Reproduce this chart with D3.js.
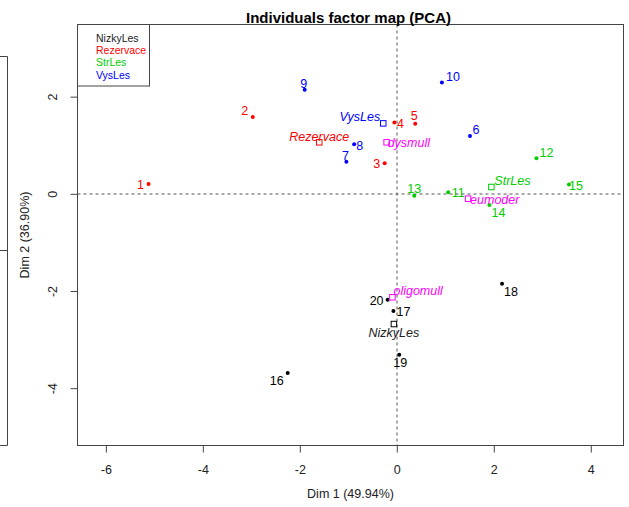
<!DOCTYPE html>
<html>
<head>
<meta charset="utf-8">
<script src="https://cdn.jsdelivr.net/npm/d3@7"></script>
<style>
  html, body { margin: 0; padding: 0; background: #fff; }
  svg { display: block; font-family: "Liberation Sans", Arial, Helvetica, sans-serif; }
</style>
</head>
<body>
<svg id="chart" width="629" height="507"></svg>
<script>
// PCA individuals: scores on the first two dimensions
const individualIds = ["1","2","3","4","5","6","7","8","9","10",
                       "11","12","13","14","15","16","17","18","19","20"];
const individualGroups = ["Rezervace","Rezervace","Rezervace","Rezervace","Rezervace",
                          "VysLes","VysLes","VysLes","VysLes","VysLes",
                          "StrLes","StrLes","StrLes","StrLes","StrLes",
                          "NizkyLes","NizkyLes","NizkyLes","NizkyLes","NizkyLes"];
const individualDim1 = [-5.12, -2.97, -0.25, -0.05, 0.38, 1.51, -1.04, -0.88, -1.90, 0.93,
                         1.06, 2.88, 0.36, 1.91, 3.55, -2.25, -0.07, 2.17, 0.05, -0.19];
const individualDim2 = [0.20, 1.58, 0.63, 1.47, 1.44, 1.19, 0.66, 1.02, 2.14, 2.29,
                        0.03, 0.73, -0.04, -0.23, 0.19, -3.69, -2.41, -1.85, -3.31, -2.18];

// Supplementary categories (centres of the qualitative levels)
const categoryNames = ["NizkyLes", "Rezervace", "StrLes", "VysLes", "dysmull", "eumoder", "oligomull"];
const categoryVariable = ["forest", "forest", "forest", "forest", "soil", "soil", "soil"];
const categoryDim1 = [-0.06, -1.60, 1.95, -0.28, -0.21, 1.47, -0.09];
const categoryDim2 = [-2.68, 1.06, 0.14, 1.45, 1.06, -0.10, -2.13];

const legendLabels = ["NizkyLes", "Rezervace", "StrLes", "VysLes"];
const xTickValues = [-6, -4, -2, 0, 2, 4];
const yTickValues = [-4, -2, 0, 2];
const xLimits = [-6.585, 4.675];
const yLimits = [-5.18, 3.485];

const titleText = "Individuals factor map (PCA)";
const xAxisTitle = "Dim 1 (49.94%)";
const yAxisTitle = "Dim 2 (36.90%)";

// ---- styling and layout ----
const groupColor = {
  NizkyLes: "#000000",
  Rezervace: "#FF0000",
  StrLes: "#00CD00",
  VysLes: "#0000FF",
  soil: "#FF00FF"
};
// text centre relative to the point, in px
const pointLabelOffset = {
  "1": [-8, 1], "2": [-8, -6], "3": [-8, 0], "4": [6, 1], "5": [-1, -8],
  "6": [6, -6], "7": [-1, -6], "8": [5.5, 1], "9": [-1, -6], "10": [11, -6],
  "11": [10, 0], "12": [10, -6], "13": [0, -7], "14": [9, 8], "15": [7, 1],
  "16": [-11, 8], "17": [10, 1], "18": [9, 8], "19": [1, 8], "20": [-11, 1]
};
// [dx, dy, anchor] relative to the square
const categoryLabelPlacement = {
  NizkyLes: [0, 9, "middle"],
  Rezervace: [0, -6, "middle"],
  StrLes: [3, -6, "start"],
  VysLes: [-3, -7, "end"],
  dysmull: [1, 0, "start"],
  eumoder: [2, 1, "start"],
  oligomull: [1, -7, "start"]
};

const W = 629, H = 507;
const margin = { top: 24.5, right: 5.5, bottom: 61.5, left: 77.5 };
const plotW = W - margin.left - margin.right;
const plotH = H - margin.top - margin.bottom;

const svg = d3.select("#chart");

const x = d3.scaleLinear().domain(xLimits).range([0, plotW]);
const y = d3.scaleLinear().domain(yLimits).range([plotH, 0]);

// partial frame of a neighbouring panel at the far left
const side = svg.append("g").attr("stroke", "#444").attr("stroke-width", 1).attr("fill", "none");
side.append("path").attr("d", "M0,56.5 H7.5 V445.5 H0");
side.append("line").attr("x1", 0).attr("x2", 7.5).attr("y1", 250.5).attr("y2", 250.5);

const g = svg.append("g").attr("transform", `translate(${margin.left},${margin.top})`);

// reference lines at zero
g.append("line")
  .attr("x1", 0).attr("x2", plotW)
  .attr("y1", Math.round(y(0)) + 0.5).attr("y2", Math.round(y(0)) + 0.5)
  .attr("stroke", "#555").attr("stroke-width", 1).attr("stroke-dasharray", "3,3");
g.append("line")
  .attr("x1", Math.round(x(0)) + 0.5).attr("x2", Math.round(x(0)) + 0.5)
  .attr("y1", 0).attr("y2", plotH)
  .attr("stroke", "#555").attr("stroke-width", 1).attr("stroke-dasharray", "3,3");

// axes
const xAxis = g.append("g")
  .attr("transform", `translate(0,${plotH})`)
  .call(d3.axisBottom(x).tickValues(xTickValues).tickSize(7).tickPadding(13).tickFormat(d => String(d)));
xAxis.select(".domain").remove();
xAxis.selectAll("line").attr("stroke", "#444");
xAxis.selectAll("text").attr("font-size", 12.5).attr("fill", "#222")
  .style("font-family", "'Liberation Sans', Arial, sans-serif");

const yAxis = g.append("g")
  .call(d3.axisLeft(y).tickValues(yTickValues).tickSize(7).tickFormat(d => String(d)));
yAxis.select(".domain").remove();
yAxis.selectAll("line").attr("stroke", "#444");
yAxis.selectAll("text")
  .attr("x", null).attr("dy", "0.35em")
  .attr("text-anchor", "middle")
  .attr("transform", "translate(-24.4,0) rotate(-90)")
  .attr("font-size", 12.5).attr("fill", "#222")
  .style("font-family", "'Liberation Sans', Arial, sans-serif");

// plot frame
g.append("rect")
  .attr("x", 0).attr("y", 0).attr("width", plotW).attr("height", plotH)
  .attr("fill", "none").attr("stroke", "#444").attr("stroke-width", 1);

// individuals
const individuals = individualIds.map((id, i) => ({
  id, group: individualGroups[i], d1: individualDim1[i], d2: individualDim2[i]
}));

g.selectAll("circle.ind").data(individuals).join("circle")
  .attr("class", "ind")
  .attr("cx", d => x(d.d1)).attr("cy", d => y(d.d2)).attr("r", 2)
  .attr("fill", d => groupColor[d.group]);

g.selectAll("text.ind").data(individuals).join("text")
  .attr("class", "ind")
  .attr("x", d => x(d.d1) + pointLabelOffset[d.id][0])
  .attr("y", d => y(d.d2) + pointLabelOffset[d.id][1])
  .attr("dy", "0.35em")
  .attr("text-anchor", "middle")
  .attr("font-size", 12.5)
  .attr("fill", d => groupColor[d.group])
  .text(d => d.id);

// supplementary categories
const categories = categoryNames.map((name, i) => ({
  name, variable: categoryVariable[i], d1: categoryDim1[i], d2: categoryDim2[i]
}));
const catColor = d => d.variable === "soil" ? groupColor.soil : groupColor[d.name];
const sq = 5.5;

g.selectAll("rect.cat").data(categories).join("rect")
  .attr("class", "cat")
  .attr("x", d => x(d.d1) - sq / 2).attr("y", d => y(d.d2) - sq / 2)
  .attr("width", sq).attr("height", sq)
  .attr("fill", "none").attr("stroke", catColor).attr("stroke-width", 1);

g.selectAll("text.cat").data(categories).join("text")
  .attr("class", "cat")
  .attr("x", d => x(d.d1) + categoryLabelPlacement[d.name][0])
  .attr("y", d => y(d.d2) + categoryLabelPlacement[d.name][1])
  .attr("dy", "0.35em")
  .attr("text-anchor", d => categoryLabelPlacement[d.name][2])
  .attr("font-size", 12.5)
  .attr("font-style", "italic")
  .attr("fill", d => d.variable === "soil" ? groupColor.soil : (d.name === "NizkyLes" ? "#222" : catColor(d)))
  .text(d => d.name);

// legend
const legend = g.append("g");
legend.append("rect")
  .attr("x", 0).attr("y", 0).attr("width", 72).attr("height", 61.5)
  .attr("fill", "#fff").attr("stroke", "#444").attr("stroke-width", 1);
legend.selectAll("text").data(legendLabels).join("text")
  .attr("x", 18.5)
  .attr("y", (d, i) => 13.5 + i * 12.4)
  .attr("dy", "0.35em")
  .attr("font-size", 10.5)
  .attr("fill", d => d === "NizkyLes" ? "#222" : groupColor[d])
  .text(d => d);

// titles
svg.append("text")
  .attr("x", 348.5).attr("y", 23)
  .attr("text-anchor", "middle")
  .attr("font-size", 15).attr("font-weight", "bold")
  .attr("fill", "#000")
  .text(titleText);

svg.append("text")
  .attr("x", margin.left + plotW / 2).attr("y", 493.3)
  .attr("dy", "0.35em")
  .attr("text-anchor", "middle")
  .attr("font-size", 12.5).attr("fill", "#222")
  .text(xAxisTitle);

svg.append("text")
  .attr("transform", `translate(25,${margin.top + plotH / 2}) rotate(-90)`)
  .attr("dy", "0.35em")
  .attr("text-anchor", "middle")
  .attr("font-size", 12.5).attr("fill", "#222")
  .text(yAxisTitle);
</script>
</body>
</html>
